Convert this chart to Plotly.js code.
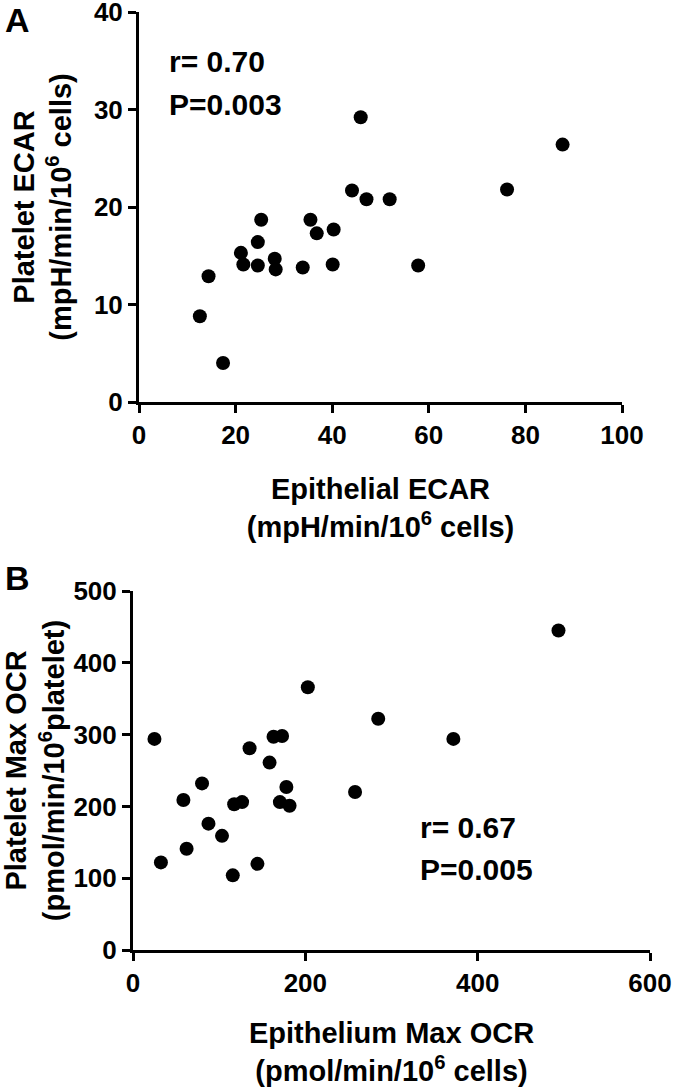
<!DOCTYPE html>
<html>
<head>
<meta charset="utf-8">
<script src="https://cdn.plot.ly/plotly-3.0.1.min.js"></script>
<style>
html,body{margin:0;padding:0;background:#fff;}
#chart{width:680px;height:1087px;}
</style>
</head>
<body>
<div id="chart"></div>
<script>
// Panel A: Epithelial ECAR vs Platelet ECAR
const ecarEpithelial = [12.6, 14.4, 17.4, 21.1, 21.6, 24.6, 24.6, 25.3, 28.1, 28.3, 33.9, 35.5, 36.8, 40.3, 40.1, 44.1, 45.9, 47.1, 51.9, 57.8, 76.2, 87.7];
const ecarPlatelet   = [8.8, 12.9, 4.0, 15.3, 14.1, 16.4, 14.0, 18.7, 14.7, 13.6, 13.8, 18.7, 17.3, 17.7, 14.1, 21.7, 29.2, 20.8, 20.8, 14.0, 21.8, 26.4];

// Panel B: Epithelium Max OCR vs Platelet Max OCR
const ocrEpithelium = [24.9, 32.4, 58.5, 62.2, 80.1, 87.6, 103.3, 115.8, 117.4, 126.6, 135.3, 144.4, 158.5, 163.1, 173.0, 170.5, 178.0, 181.7, 202.9, 257.7, 284.6, 371.8, 493.8];
const ocrPlatelet   = [294, 122, 209, 141, 232, 176, 159, 104, 203, 206, 281, 120, 261, 297, 298, 206, 227, 201, 366, 220, 322, 294, 445];

const statsA = ["r= 0.70", "P=0.003"];
const statsB = ["r= 0.67", "P=0.005"];
const panelLabels = ["A", "B"];

const FONT = "Liberation Sans, Arial, sans-serif";
const W = 680, H = 1087;
const px = v => v / W;
const py = v => 1 - v / H;

const marker = {color: "#000", size: 14, line: {width: 0}};

const traces = [
  {x: ecarEpithelial, y: ecarPlatelet, type: "scatter", mode: "markers", marker: marker, xaxis: "x", yaxis: "y", hoverinfo: "x+y"},
  {x: ocrEpithelium, y: ocrPlatelet, type: "scatter", mode: "markers", marker: marker, xaxis: "x2", yaxis: "y2", hoverinfo: "x+y"}
];

const axBase = {
  showgrid: false, zeroline: false, showline: true, linecolor: "#000", linewidth: 3,
  ticks: "outside", ticklen: 8, tickwidth: 3, tickcolor: "#000",
  tickfont: {family: FONT, size: 26, color: "#000", weight: "bold"},
  ticklabeloverflow: "allow",
  automargin: false, fixedrange: true
};
const titleFont = {family: FONT, size: 29, color: "#000", weight: "bold"};

const layout = {
  width: W, height: H,
  margin: {l: 0, r: 0, t: 0, b: 0},
  paper_bgcolor: "#fff", plot_bgcolor: "#fff",
  showlegend: false,
  xaxis: Object.assign({}, axBase, {
    domain: [px(139), px(622)], range: [0, 100], tickvals: [0, 20, 40, 60, 80, 100],
    anchor: "y",
    title: {text: "Epithelial ECAR<br>(mpH/min/10<sup>6</sup> cells)", font: titleFont, standoff: 30}
  }),
  yaxis: Object.assign({}, axBase, {
    domain: [py(402), py(12)], range: [0, 40], tickvals: [0, 10, 20, 30, 40],
    anchor: "x",
    title: {text: "Platelet ECAR<br>(mpH/min/10<sup>6</sup> cells)", font: titleFont, standoff: 14}
  }),
  xaxis2: Object.assign({}, axBase, {
    domain: [px(133), px(650)], range: [0, 600], tickvals: [0, 200, 400, 600],
    anchor: "y2",
    title: {text: "Epithelium Max OCR<br>(pmol/min/10<sup>6</sup> cells)", font: titleFont, standoff: 26}
  }),
  yaxis2: Object.assign({}, axBase, {
    domain: [py(950), py(591)], range: [0, 500], tickvals: [0, 100, 200, 300, 400, 500],
    anchor: "x2",
    title: {text: "Platelet Max OCR<br>(pmol/min/10<sup>6</sup>platelet)", font: titleFont, standoff: 8}
  }),
  annotations: [
    {text: panelLabels[0], xref: "paper", yref: "paper", x: px(17), y: py(20), xanchor: "center", yanchor: "middle", showarrow: false, font: {family: FONT, size: 34, color: "#000", weight: "bold"}},
    {text: panelLabels[1], xref: "paper", yref: "paper", x: px(17), y: py(578), xanchor: "center", yanchor: "middle", showarrow: false, font: {family: FONT, size: 34, color: "#000", weight: "bold"}},
    {text: statsA[0], xref: "paper", yref: "paper", x: px(167), y: py(61), xanchor: "left", yanchor: "middle", showarrow: false, font: {family: FONT, size: 30, color: "#000", weight: "bold"}},
    {text: statsA[1], xref: "paper", yref: "paper", x: px(167), y: py(105), xanchor: "left", yanchor: "middle", showarrow: false, font: {family: FONT, size: 30, color: "#000", weight: "bold"}},
    {text: statsB[0], xref: "paper", yref: "paper", x: px(418), y: py(827), xanchor: "left", yanchor: "middle", showarrow: false, font: {family: FONT, size: 30, color: "#000", weight: "bold"}},
    {text: statsB[1], xref: "paper", yref: "paper", x: px(418), y: py(870), xanchor: "left", yanchor: "middle", showarrow: false, font: {family: FONT, size: 30, color: "#000", weight: "bold"}}
  ]
};

Plotly.newPlot("chart", traces, layout, {displayModeBar: false, staticPlot: true});
</script>
</body>
</html>
